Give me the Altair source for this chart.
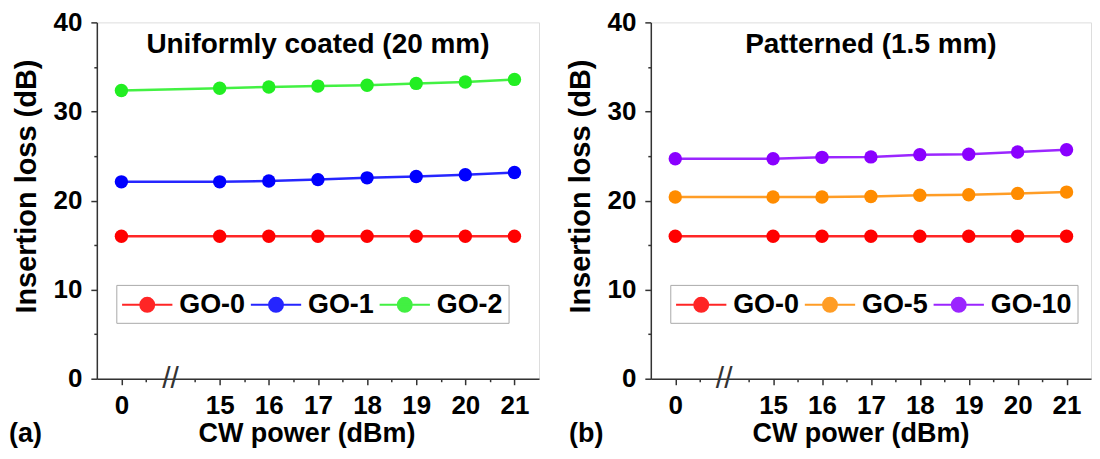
import altair as alt
import pandas as pd

# ---------------- data ----------------
cw_power = [0, 15, 16, 17, 18, 19, 20, 21]
x_labels = ["0", "15", "16", "17", "18", "19", "20", "21"]

a_series = ["GO-0", "GO-1", "GO-2"]
a_colors = ["#ff0000", "#0000ff", "#22ee22"]
a_go0 = [16.0, 16.0, 16.0, 16.0, 16.0, 16.0, 16.0, 16.0]
a_go1 = [22.1, 22.1, 22.2, 22.35, 22.55, 22.7, 22.9, 23.15]
a_go2 = [32.35, 32.6, 32.75, 32.85, 32.95, 33.15, 33.3, 33.6]

b_series = ["GO-0", "GO-5", "GO-10"]
b_colors = ["#ff0000", "#ff8c00", "#8a00ff"]
b_go0 = [16.0, 16.0, 16.0, 16.0, 16.0, 16.0, 16.0, 16.0]
b_go5 = [20.4, 20.4, 20.4, 20.45, 20.6, 20.65, 20.8, 20.95]
b_go10 = [24.7, 24.7, 24.85, 24.9, 25.15, 25.2, 25.45, 25.7]

y_ticks = [0, 5, 10, 15, 20, 25, 30, 35, 40]

FONT = "Liberation Sans"

# broken axis: slot 0 for 0 dBm, slot 1 is the gap, then 15..21
x_pos = [i + (1 if i > 0 else 0) for i in range(len(cw_power))]
break_pos = (x_pos[0] + x_pos[1]) / 2
minor_pos = [p + 0.5 for p in range(0, x_pos[-1])]
x_values = sorted(set(x_pos + minor_pos))
label_expr = "".join(f"datum.value=={p}?'{l}':" for p, l in zip(x_pos, x_labels)) + "''"


def long_df(series, values):
    rows = []
    for s, vals in zip(series, values):
        for p, v in zip(x_pos, vals):
            rows.append({"series": s, "pos": p, "loss": v})
    return pd.DataFrame(rows)


LEG_PATH = ("M-1.8,0L1.8,0M-0.5,0A0.5,0.5,0,1,1,0.5,0"
            "A0.5,0.5,0,1,1,-0.5,0Z")


def panel(df, series, colors, title, tag, width, tag_x):
    H = 357
    x = alt.X(
        "pos:Q",
        scale=alt.Scale(domain=[-0.5, x_pos[-1] + 0.5], nice=False, zero=False),
        axis=alt.Axis(
            title="CW power (dBm)",
            values=x_values,
            labelExpr=label_expr,
            labelOverlap=False,
            grid=False,
            tickSize={"condition": {"test": "datum.value % 1 != 0", "value": 3}, "value": 6},
            tickColor="#333333", tickWidth=1.5,
            domainColor="#333333", domainWidth=1.5,
            labelFont=FONT, labelFontSize=26, labelFontWeight="bold", labelColor="black",
            labelPadding=8,
            titleFont=FONT, titleFontSize=27, titleFontWeight="bold", titleColor="black",
            titleX=210, titleY=55, titleBaseline="middle",
        ),
    )
    y = alt.Y(
        "loss:Q",
        scale=alt.Scale(domain=[0, 40], nice=False),
        axis=alt.Axis(
            title="Insertion loss (dB)",
            values=y_ticks,
            labelExpr="datum.value % 10 == 0 ? datum.label : ''",
            labelOverlap=False,
            grid=False,
            tickSize={"condition": {"test": "datum.value % 10 != 0", "value": 3}, "value": 6},
            tickColor="#333333", tickWidth=1.5,
            domainColor="#333333", domainWidth=1.5,
            labelFont=FONT, labelFontSize=26, labelFontWeight="bold", labelColor="black",
            labelPadding=9,
            titleFont=FONT, titleFontSize=29, titleFontWeight="bold", titleColor="black",
            titleX=-70, titleY=164, titleBaseline="middle", titleAngle=270,
        ),
    )
    color = alt.Color(
        "series:N",
        scale=alt.Scale(domain=series, range=colors),
        sort=series,
        legend=alt.Legend(
            orient="none", legendX=19.5, legendY=263,
            direction="horizontal", columns=3, title=None,
            symbolType=LEG_PATH, symbolSize=784, symbolStrokeWidth=2,
            symbolOffset=11, labelOffset=17, columnPadding=0,
            labelFont=FONT, labelFontSize=27, labelFontWeight="bold", labelColor="black",
            padding=5, strokeColor="#aaaaaa", fillColor="white",
        ),
    )
    line = alt.Chart(df).mark_line(strokeWidth=2.5, opacity=0.85).encode(x=x, y=y, color=color)
    pts = alt.Chart(df).mark_point(filled=True, size=180, opacity=1).encode(x=x, y=y, color=color)
    brk = alt.Chart(pd.DataFrame({"pos": [break_pos], "loss": [0]})).mark_text(
        text="//", fontSize=30, font=FONT, color="#333333"
    ).encode(x=x, y=y)
    lab = alt.Chart(pd.DataFrame({"t": [tag]})).mark_text(
        font=FONT, fontSize=27, fontWeight="bold", align="left", baseline="middle", color="black"
    ).encode(text="t:N", x=alt.value(tag_x), y=alt.value(H + 55))
    ttl = alt.Chart(pd.DataFrame({"t": [title]})).mark_text(
        font=FONT, fontSize=28, fontWeight="bold", align="center", baseline="alphabetic", color="black"
    ).encode(text="t:N", x=alt.value(width / 2), y=alt.value(31))
    return alt.layer(line, pts, brk, lab, ttl).properties(width=width, height=H)


left = panel(long_df(a_series, [a_go0, a_go1, a_go2]), a_series, a_colors,
             "Uniformly coated (20 mm)", "(a)", 443, -88)
right = panel(long_df(b_series, [b_go0, b_go5, b_go10]), b_series, b_colors,
              "Patterned (1.5 mm)", "(b)", 441, -82)

chart = alt.hconcat(left, right, spacing=26).resolve_scale(color="independent").properties(
    padding={"left": 0, "top": 0, "right": 0, "bottom": 0}
).configure_view(stroke=None).configure(background="white")

chart.save("out.html", embed_options={"renderer": "svg", "actions": False})
